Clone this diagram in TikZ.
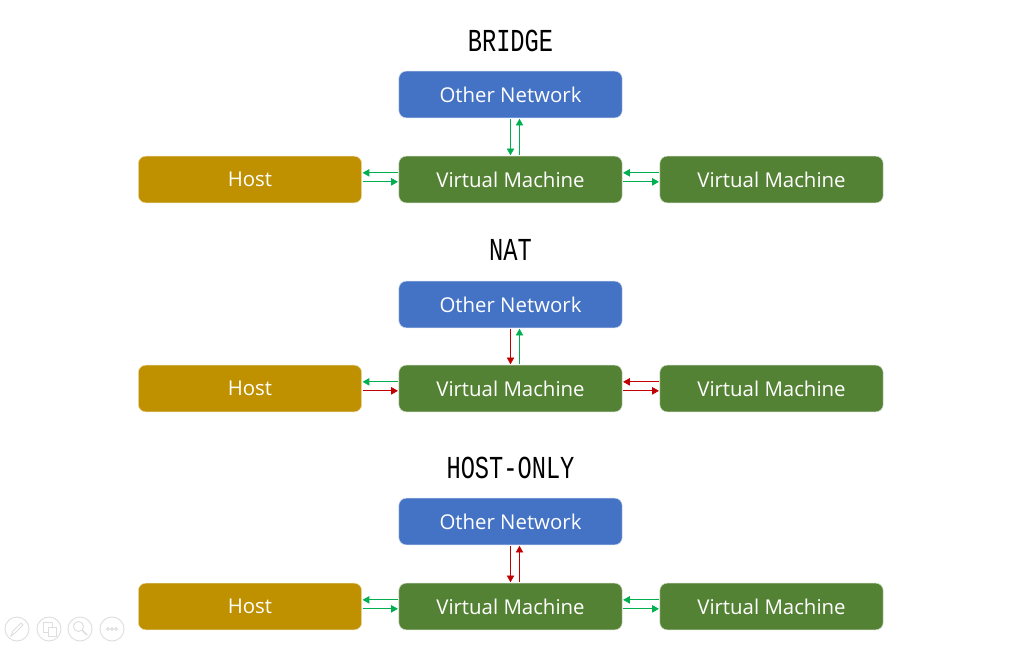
\documentclass[tikz,border=0pt]{standalone}
\usepackage{fontspec}
\setmainfont{Open Sans}
\newfontfamily\titlefont[FakeStretch=0.74]{Liberation Mono}
\usetikzlibrary{arrows.meta}
\definecolor{netblue}{HTML}{4472C4}
\definecolor{hostgold}{HTML}{BF9000}
\definecolor{vmgreen}{HTML}{548235}
\definecolor{okgreen}{HTML}{00B050}
\definecolor{nored}{HTML}{C00000}
\definecolor{toolgray}{HTML}{DEDEDE}
\tikzset{
  box/.style={draw=white!70!#1, line width=0.4pt, fill=#1, rounded corners=5.5pt, text=white, minimum width=167.5pt, minimum height=35pt, inner sep=0pt, font=\fontsize{15.3}{18}\selectfont},
  modetitle/.style={inner sep=0pt, font=\titlefont\fontsize{24}{28}\selectfont},
  link/.style={-{Triangle[length=5pt,width=5.5pt]}, line width=0.6pt, shorten >=0.5pt, shorten <=0.5pt},
  tool/.style={draw=toolgray, line width=0.7pt}
}
\begin{document}
\begin{tikzpicture}[x=0.75pt,y=-0.75pt]
\useasboundingbox (0,0) rectangle (1024,644);
\foreach \row/\modename/\ty/\ny/\vy/\cdown/\cup/\cl/\cr/\dl/\dr in {
  1/BRIDGE/41/94.5/179.5/okgreen/okgreen/okgreen/okgreen/okgreen/okgreen,
  2/NAT/250/304.5/388.5/nored/okgreen/okgreen/nored/nored/nored,
  3/HOST-ONLY/468/521.5/606.5/nored/nored/okgreen/okgreen/okgreen/okgreen} {
  \node[modetitle] (title\row) at (510.5,\ty) {\modename};
  \node[box=netblue] (net\row) at (510.5,\ny) {Other Network};
  \node[box=vmgreen] (vm\row) at (510.5,\vy) {Virtual Machine};
  \node[box=hostgold] (host\row) at (250,\vy) {Host};
  \node[box=vmgreen] (peer\row) at (771.5,\vy) {Virtual Machine};
  % up and down
  \draw[link,\cdown] (net\row.south) -- (vm\row.north);
  \draw[link,\cup] ([xshift=6.75pt]vm\row.north) -- ([xshift=6.75pt]net\row.south);
  % host side
  \draw[link,\cl] ([yshift=5pt]vm\row.west) -- ([yshift=5pt]host\row.east);
  \draw[link,\cr] ([yshift=-1.75pt]host\row.east) -- ([yshift=-1.75pt]vm\row.west);
  % peer side
  \draw[link,\dl] ([yshift=5pt]peer\row.west) -- ([yshift=5pt]vm\row.east);
  \draw[link,\dr] ([yshift=-1.75pt]vm\row.east) -- ([yshift=-1.75pt]peer\row.west);
}
% viewer buttons
\foreach \cx in {17,49,80,112} {
  \draw[tool] (\cx,629) circle [radius=12];
}
\draw[tool] (11,636) -- (13,631) -- (21,623) -- (23,625) -- (15,633) -- cycle;
\draw[tool] (43,622) rectangle (52,632);
\draw[tool,fill=white] (48,627) rectangle (56,636);
\draw[tool] (78.5,626.5) circle [radius=5];
\draw[tool,line width=1.2pt] (82,630) -- (87,635);
\foreach \dx in {108,112,116} {
  \draw[tool] (\dx,629) circle [radius=1.4];
}
\end{tikzpicture}
\end{document}
